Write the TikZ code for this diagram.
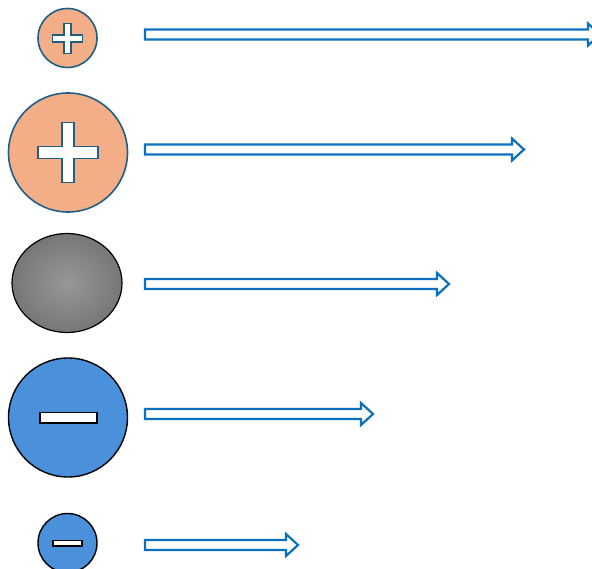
\documentclass[tikz,border=0pt]{standalone}
\usetikzlibrary{shapes.geometric}
\definecolor{ionorange}{HTML}{F3AE87}
\definecolor{ionedge}{HTML}{1F5F85}
\definecolor{ionblue}{HTML}{4A90DB}
\definecolor{arrowblue}{HTML}{0A70C0}
\definecolor{grayin}{HTML}{979797}
\definecolor{grayout}{HTML}{777777}
\begin{document}
\begin{tikzpicture}[x=1pt,y=-1pt,
  cation/.style={circle,draw=ionedge,line width=1.6pt,fill=ionorange,inner sep=0pt},
  anion/.style={circle,draw=black,line width=1.4pt,fill=ionblue,inner sep=0pt},
  neutral/.style={ellipse,draw=black,line width=1.2pt,inner color=grayin,outer color=grayout,inner sep=0pt},
  signbox/.style={fill=white,line width=1.4pt,line join=miter},
  velarrow/.style={draw=arrowblue,fill=white,line width=2.2pt,line join=miter}]
\useasboundingbox (0,0) rectangle (592,569);
\clip (0,0) rectangle (592,569);

% particles
\node[cation,minimum size=59pt] (p1) at (67.5,38) {};
\node[cation,minimum size=119pt] (p2) at (68,152.5) {};
\node[neutral,minimum width=110pt,minimum height=99pt] (n3) at (67,283) {};
\node[anion,minimum size=119pt] (m4) at (68,417.5) {};
\node[anion,minimum size=59pt] (m5) at (67.5,543) {};

% charge signs
\newcommand{\plussign}[4]{% center x, center y, half length, half width
  \draw[signbox,draw=ionedge] (#1-#3,#2-#4) -- (#1-#4,#2-#4) -- (#1-#4,#2-#3) -- (#1+#4,#2-#3)
    -- (#1+#4,#2-#4) -- (#1+#3,#2-#4) -- (#1+#3,#2+#4) -- (#1+#4,#2+#4) -- (#1+#4,#2+#3)
    -- (#1-#4,#2+#3) -- (#1-#4,#2+#4) -- (#1-#3,#2+#4) -- cycle;}
\newcommand{\minussign}[4]{%
  \draw[signbox,draw=black] (#1-#3,#2-#4) rectangle (#1+#3,#2+#4);}
\plussign{67.5}{38.5}{15}{3.6}
\plussign{68}{152.5}{30}{6}
\minussign{68.5}{417.5}{28.5}{5.3}
\minussign{67.5}{543}{14.5}{2.8}

% velocity arrows: start x, centre y, tip x
\newcommand{\velocity}[3]{%
  \draw[velarrow] (#1,#2-5) -- (#3-12,#2-5) -- (#3-12,#2-11) -- (#3,#2) -- (#3-12,#2+11)
    -- (#3-12,#2+5) -- (#1,#2+5) -- cycle;}
\velocity{145}{34.5}{600}
\velocity{145}{149.5}{524}
\velocity{145}{284}{449}
\velocity{145}{414}{373}
\velocity{145}{545}{298}
\end{tikzpicture}
\end{document}
